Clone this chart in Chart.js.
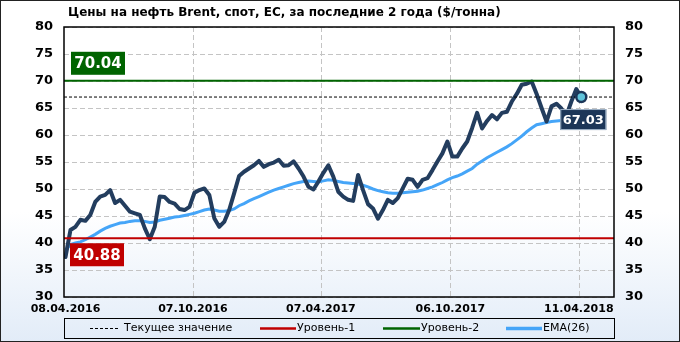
<!DOCTYPE html>
<html>
<head>
<meta charset="utf-8">
<script src="https://cdn.jsdelivr.net/npm/chart.js@4.4.1/dist/chart.umd.min.js"></script>
<style>
    html, body { margin: 0; padding: 0; background: #fff; }
    #wrap { width: 680px; height: 342px; }
</style>
</head>
<body>
<div id="wrap"><canvas id="canva" width="680" height="342"></canvas></div>
<script>
const titleText = 'Цены на нефть Brent, спот, ЕС, за последние 2 года ($/тонна)';

// weekly Brent price, $/t
const price = [
    37.4, 42.4, 43.0, 44.3, 44.1, 45.2, 47.6, 48.6, 48.9, 49.8,
    47.4, 48.0, 46.9, 45.8, 45.5, 45.2, 42.7, 40.7, 43.0, 48.6,
    48.5, 47.6, 47.3, 46.3, 46.1, 46.7, 49.3, 49.8, 50.1, 48.9,
    44.6, 43.0, 43.9, 46.1, 49.2, 52.4, 53.2, 53.8, 54.4, 55.2,
    54.1, 54.6, 54.9, 55.4, 54.3, 54.4, 55.1, 53.8, 52.3, 50.4,
    49.9, 51.4, 53.0, 54.4, 52.3, 49.5, 48.6, 48.0, 47.8, 52.6,
    49.8, 47.2, 46.4, 44.5, 46.1, 48.0, 47.4, 48.3, 50.1, 51.9,
    51.7, 50.4, 51.7, 52.0, 53.5, 55.1, 56.6, 58.8, 56.0, 56.0,
    57.5, 58.8, 61.3, 64.1, 61.2, 62.6, 63.7, 62.9, 64.1, 64.3,
    66.2, 67.6, 69.3, 69.5, 69.9, 67.6, 65.0, 62.5, 65.3, 65.8,
    64.9, 63.6, 66.2, 68.5, 67.03
];

const ema26 = [
    38.7, 39.7, 40.0, 40.2, 40.6, 41.1, 41.6, 42.2, 42.7, 43.1,
    43.4, 43.7, 43.8, 44.0, 44.1, 44.1, 44.0, 43.8, 43.9, 44.2,
    44.4, 44.6, 44.8, 44.9, 45.1, 45.3, 45.5, 45.8, 46.1, 46.3,
    46.1, 45.9, 45.9, 46.0, 46.3, 46.9, 47.3, 47.8, 48.2, 48.6,
    49.0, 49.4, 49.8, 50.1, 50.4, 50.7, 51.0, 51.2, 51.4, 51.5,
    51.4, 51.3, 51.5, 51.7, 51.6, 51.4, 51.2, 51.1, 51.0, 50.9,
    50.7, 50.4, 50.0, 49.7, 49.5, 49.3, 49.2, 49.2, 49.3, 49.4,
    49.5, 49.6, 49.8, 50.1, 50.4, 50.8, 51.2, 51.7, 52.1, 52.4,
    52.8, 53.3, 53.8, 54.6, 55.2, 55.8, 56.3, 56.8, 57.3, 57.8,
    58.4, 59.1, 59.8, 60.6, 61.3, 61.9, 62.1, 62.3, 62.5, 62.6,
    62.7, 62.8, 62.9, 63.1, 63.3
];

const tickDates = ['08.04.2016', '07.10.2016', '07.04.2017', '06.10.2017', '11.04.2018'];
const tickAt = [0, 25.7, 51.5, 77.6, 103.5];

const level1 = 40.88;
const level2 = 70.04;
const current = price[price.length - 1];

const legendLabels = ['Текущее значение', 'Уровень-1', 'Уровень-2', 'EMA(26)'];

const xMin = -0.3;
const xMax = 110.6;
const FONT = '"DejaVu Sans", Verdana, sans-serif';

const toXY = (arr) => arr.map((v, i) => ({ x: i, y: v }));
const flat = (v) => [{ x: xMin, y: v }, { x: xMax, y: v }];

function tag(ctx, text, x, y, w, h, bg, size, border) {
    ctx.save();
    ctx.fillStyle = bg;
    ctx.fillRect(x, y, w, h);
    if (border) {
        ctx.strokeStyle = border;
        ctx.lineWidth = 1;
        ctx.strokeRect(x + 0.5, y + 0.5, w - 1, h - 1);
    }
    ctx.fillStyle = '#fff';
    ctx.font = 'bold ' + size + 'px ' + FONT;
    ctx.textAlign = 'center';
    ctx.textBaseline = 'middle';
    ctx.fillText(text, x + w / 2, y + h / 2 + 1);
    ctx.restore();
}

const decor = {
    id: 'decor',
    beforeDraw(chart) {
        const ctx = chart.ctx;
        const g = ctx.createLinearGradient(0, 0, 0, chart.height);
        g.addColorStop(0, '#ffffff');
        g.addColorStop(0.62, '#ffffff');
        g.addColorStop(1, '#e2ecf8');
        ctx.save();
        ctx.fillStyle = g;
        ctx.fillRect(0, 0, chart.width, chart.height);
        ctx.restore();
    },
    beforeDatasetsDraw(chart) {
        // dashed grid from the scales' own ticks
        const ctx = chart.ctx;
        const a = chart.chartArea;
        const { x, y } = chart.scales;
        ctx.save();
        ctx.strokeStyle = '#c4c4c4';
        ctx.lineWidth = 1;
        ctx.setLineDash([5, 3]);
        y.ticks.forEach((t) => {
            const py = Math.round(y.getPixelForValue(t.value)) + 0.5;
            ctx.beginPath();
            ctx.moveTo(a.left, py);
            ctx.lineTo(a.right, py);
            ctx.stroke();
        });
        x.ticks.forEach((t, i) => {
            if (i === 0) return;
            const px = Math.round(x.getPixelForValue(t.value)) + 0.5;
            ctx.beginPath();
            ctx.moveTo(px, a.top);
            ctx.lineTo(px, a.bottom);
            ctx.stroke();
        });
        ctx.restore();
    },
    afterDatasetsDraw(chart) {
        const ctx = chart.ctx;
        const a = chart.chartArea;
        const y = chart.scales.y;
        const x = chart.scales.x;
        const y2 = y.getPixelForValue(level2);
        const y1 = y.getPixelForValue(level1);
        tag(ctx, level2.toFixed(2), a.left + 7, y2 - 29, 54, 23, '#006400', 15);
        tag(ctx, level1.toFixed(2), a.left + 6, y1 + 5, 54, 23, '#c00000', 15);
        const px = x.getPixelForValue(price.length - 1);
        const py = y.getPixelForValue(current);
        tag(ctx, current.toFixed(2), px - 21, py + 12, 46, 21, '#1c3658', 13, '#9fb3c8');

        // plot frame
        ctx.save();
        ctx.strokeStyle = '#000';
        ctx.lineWidth = 1.5;
        ctx.strokeRect(a.left, a.top, a.right - a.left, a.bottom - a.top);
        ctx.restore();
    },
    afterDraw(chart) {
        const ctx = chart.ctx;
        const a = chart.chartArea;
        ctx.save();
        // title
        ctx.fillStyle = '#000';
        ctx.font = 'bold 12px ' + FONT;
        ctx.textBaseline = 'middle';
        ctx.textAlign = 'left';
        ctx.fillText(titleText, 68, 13);

        // legend
        const top = 318;
        const mid = top + 10.5;
        ctx.strokeStyle = '#000';
        ctx.lineWidth = 1;
        ctx.strokeRect(a.left + 0.5, top + 0.5, a.right - a.left, 20);
        const items = [
            { x0: 90, x1: 120, color: '#000', width: 1, dash: [3, 2] },
            { x0: 260, x1: 296, color: '#c00000', width: 2.5, dash: [] },
            { x0: 383, x1: 420, color: '#006400', width: 2.5, dash: [] },
            { x0: 506, x1: 542, color: '#45a5f8', width: 3.5, dash: [] },
        ];
        ctx.font = '11px ' + FONT;
        items.forEach((it, i) => {
            ctx.beginPath();
            ctx.setLineDash(it.dash);
            ctx.strokeStyle = it.color;
            ctx.lineWidth = it.width;
            ctx.moveTo(it.x0, mid);
            ctx.lineTo(it.x1, mid);
            ctx.stroke();
            ctx.setLineDash([]);
            ctx.fillStyle = '#000';
            ctx.fillText(legendLabels[i], it.x1 + (i === 0 ? 4 : 1), mid);
        });

        // outer frame
        ctx.strokeStyle = '#222';
        ctx.lineWidth = 1;
        ctx.strokeRect(0.5, 0.5, chart.width - 1, chart.height - 1);
        ctx.restore();
    },
};

new Chart(document.querySelector('#canva').getContext('2d'), {
    type: 'line',
    data: {
        datasets: [
            {
                label: 'marker',
                data: [{ x: price.length - 1, y: current }],
                showLine: false,
                pointRadius: 5,
                pointBackgroundColor: '#5fc3da',
                pointBorderColor: '#1c3658',
                pointBorderWidth: 2.5,
            },
            {
                label: legendLabels[1],
                data: flat(level1),
                borderColor: '#c00000',
                borderWidth: 2,
                pointRadius: 0,
            },
            {
                label: legendLabels[2],
                data: flat(level2),
                borderColor: '#006400',
                borderWidth: 2,
                pointRadius: 0,
            },
            {
                label: legendLabels[0],
                data: flat(current),
                borderColor: '#000',
                borderWidth: 1,
                borderDash: [3, 2],
                pointRadius: 0,
            },
            {
                label: 'Brent',
                data: toXY(price),
                borderColor: '#233d5e',
                borderWidth: 4,
                borderJoinStyle: 'round',
                borderCapStyle: 'round',
                pointRadius: 0,
                tension: 0,
            },
            {
                label: legendLabels[3],
                data: toXY(ema26),
                borderColor: '#45a5f8',
                borderWidth: 3,
                pointRadius: 0,
                tension: 0,
            },
        ],
    },
    options: {
        responsive: false,
        animation: false,
        events: [],
        layout: { padding: { left: 0, right: 0, top: 27, bottom: 23 } },
        scales: {
            x: {
                type: 'linear',
                min: xMin,
                max: xMax,
                afterBuildTicks: (scale) => {
                    scale.ticks = tickAt.map((v) => ({ value: v }));
                },
                afterFit: (scale) => {
                    scale.height = 22;
                },
                ticks: {
                    autoSkip: false,
                    maxRotation: 0,
                    padding: 6,
                    color: '#000',
                    font: { family: FONT, size: 11, weight: 'bold' },
                    callback: (value, index) => tickDates[index],
                },
                grid: { display: false, drawTicks: false },
                border: { display: false },
            },
            y: {
                position: 'left',
                min: 30,
                max: 80,
                afterFit: (scale) => {
                    scale.width = 64;
                },
                ticks: {
                    stepSize: 5,
                    padding: 11,
                    color: '#000',
                    font: { family: FONT, size: 13, weight: 'bold' },
                },
                grid: { display: false, drawTicks: false },
                border: { display: false },
            },
            y2: {
                position: 'right',
                min: 30,
                max: 80,
                afterFit: (scale) => {
                    scale.width = 66;
                },
                ticks: {
                    stepSize: 5,
                    padding: 11,
                    color: '#000',
                    font: { family: FONT, size: 13, weight: 'bold' },
                },
                grid: { display: false, drawTicks: false },
                border: { display: false },
            },
        },
        plugins: {
            legend: { display: false },
            title: { display: false },
            tooltip: { enabled: false },
        },
    },
    plugins: [decor],
});
</script>
</body>
</html>
